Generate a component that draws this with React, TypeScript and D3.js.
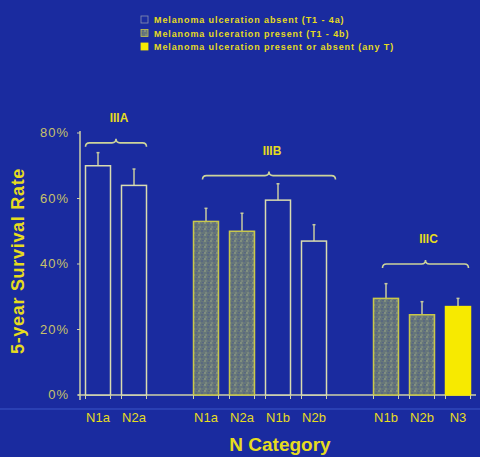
import React from "react";
import * as d3 from "d3";

const legendItems = [
  "Melanoma ulceration absent  (T1 - 4a)",
  "Melanoma ulceration present (T1 - 4b)",
  "Melanoma ulceration present or absent (any T)",
];
const legendTypes = ["absent", "present", "any"];

const groups = ["IIIA", "IIIB", "IIIC"];
const barLabels = ["N1a", "N2a", "N1a", "N2a", "N1b", "N2b", "N1b", "N2b", "N3"];
const barGroups = ["IIIA", "IIIA", "IIIB", "IIIB", "IIIB", "IIIB", "IIIC", "IIIC", "IIIC"];
const barTypes = ["absent", "absent", "present", "present", "absent", "absent", "present", "present", "any"];
const survival = [70, 64, 53, 50, 59.5, 47, 29.5, 24.5, 27];
const errorTop = [74, 69, 57, 55.5, 64.5, 52, 34, 28.5, 29.5];
const yTicks = [0, 20, 40, 60, 80];

const W = 480;
const H = 457;
const BG = "#1a2b9f";
const YELLOW = "#e6dc1e";
const AXIS = "#cfd2a6";

export default function App() {
  const slotIndex: number[] = [];
  let s = 0;
  barGroups.forEach((g, i) => {
    if (i > 0 && g !== barGroups[i - 1]) s += 1;
    slotIndex.push(s);
    s += 1;
  });
  const nSlots = s;
  const x = d3.scalePoint<number>().domain(d3.range(nSlots)).range([98, 458]);
  const y = d3.scaleLinear().domain([0, 80]).range([395, 133]);
  const bw = 25;

  const braceLevel: Record<string, number> = { IIIA: 77, IIIB: 67, IIIC: 40 };
  const braceShift: Record<string, [number, number]> = { IIIA: [0, 0], IIIB: [9, 9], IIIC: [9, -2] };

  const bracePath = (x0: number, x1: number, yy: number) => {
    const xm = (x0 + x1) / 2;
    const r = 4;
    return `M${x0},${yy + r} Q${x0},${yy} ${x0 + r},${yy} L${xm - r},${yy} Q${xm},${yy} ${xm},${yy - r} Q${xm},${yy} ${xm + r},${yy} L${x1 - r},${yy} Q${x1},${yy} ${x1},${yy + r}`;
  };

  const fillFor = (t: string) => (t === "present" ? "url(#stipple)" : t === "any" ? "#f7ea00" : BG);
  const strokeFor = (t: string) => (t === "any" ? "#f7ea00" : t === "present" ? "#c9c84a" : "#d9dcb0");

  return (
    <svg width={W} height={H} style={{ display: "block", position: "absolute", left: 0, top: 0 }}
      fontFamily="'Liberation Sans', Arial, Helvetica, sans-serif">
      <defs>
        <pattern id="stipple" width="6" height="6" patternUnits="userSpaceOnUse">
          <rect width="6" height="6" fill="#66767a" />
          <circle cx="1" cy="1" r="0.9" fill="#8f9c82" />
          <circle cx="4" cy="3" r="0.8" fill="#4a5888" />
          <circle cx="2" cy="5" r="0.7" fill="#9aa388" />
          <circle cx="5" cy="0.5" r="0.6" fill="#4a5888" />
        </pattern>
      </defs>
      <rect width={W} height={H} fill={BG} />
      <line x1={0} x2={W} y1={409} y2={409} stroke="#3a55c6" strokeWidth={1.5} opacity={0.7} />

      {/* legend */}
      {legendItems.map((t, i) => {
        const ly = 20 + i * 13.5;
        const tp = legendTypes[i];
        return (
          <g key={i}>
            <rect x={141} y={ly - 4} width={7} height={7} fill={fillFor(tp)}
              stroke={tp === "absent" ? "#8c93b0" : strokeFor(tp)} strokeWidth={0.8} />
            <text x={154} y={ly + 3} fontSize={9} letterSpacing={0.9} fontWeight="bold" fill={YELLOW}>{t}</text>
          </g>
        );
      })}

      {/* y axis */}
      <line x1={80} x2={80} y1={y(80) - 2} y2={y(0) + 5} stroke={AXIS} strokeWidth={1.5} />
      {yTicks.map((t) => (
        <g key={t}>
          <line x1={77} x2={80} y1={y(t)} y2={y(t)} stroke={AXIS} strokeWidth={1} />
          <text x={69} y={y(t) + 4} fontSize={13} letterSpacing={1} fill="#c8c26a" textAnchor="end">{t}%</text>
        </g>
      ))}
      <text transform={`translate(24,${y(40) - 3}) rotate(-90)`} textAnchor="middle" fontSize={18}
        letterSpacing={0.7} fontWeight="bold" fill={YELLOW}>5-year Survival Rate</text>

      {/* x axis */}
      <line x1={78} x2={476} y1={y(0)} y2={y(0)} stroke={AXIS} strokeWidth={1.5} />

      {/* bars */}
      {survival.map((v, i) => {
        const cx = x(slotIndex[i])!;
        const t = barTypes[i];
        return (
          <g key={i}>
            <line x1={cx} x2={cx} y1={y(v)} y2={y(errorTop[i])} stroke="#c7cba0" strokeWidth={1.5} />
            <line x1={cx - 1.5} x2={cx + 1.5} y1={y(errorTop[i])} y2={y(errorTop[i])} stroke="#c7cba0" strokeWidth={1.5} />
            <rect x={cx - bw / 2} y={y(v)} width={bw} height={y(0) - y(v)} fill={fillFor(t)}
              stroke={strokeFor(t)} strokeWidth={1.5} />
            <line x1={cx - bw / 2} x2={cx - bw / 2} y1={y(0)} y2={y(0) + 4} stroke={AXIS} strokeWidth={1} />
            <line x1={cx + bw / 2} x2={cx + bw / 2} y1={y(0)} y2={y(0) + 4} stroke={AXIS} strokeWidth={1} />
            <text x={cx} y={422} textAnchor="middle" fontSize={13} fill={YELLOW}>{barLabels[i]}</text>
          </g>
        );
      })}

      {/* group braces */}
      {groups.map((g) => {
        const idx = barGroups.map((bg, i) => (bg === g ? i : -1)).filter((i) => i >= 0);
        const x0 = x(slotIndex[idx[0]])! - bw / 2 + braceShift[g][0];
        const x1 = x(slotIndex[idx[idx.length - 1]])! + bw / 2 + braceShift[g][1];
        const yy = y(braceLevel[g]);
        const xm = (x0 + x1) / 2;
        return (
          <g key={g}>
            <path d={bracePath(x0, x1, yy)} fill="none" stroke="#cdd49a" strokeWidth={1.6} />
            <text x={xm + 3} y={yy - 21} textAnchor="middle" fontSize={12} fontWeight="bold" fill={YELLOW}>{g}</text>
          </g>
        );
      })}

      <text x={280} y={451} textAnchor="middle" fontSize={19} fontWeight="bold" fill={YELLOW}>N Category</text>
    </svg>
  );
}
